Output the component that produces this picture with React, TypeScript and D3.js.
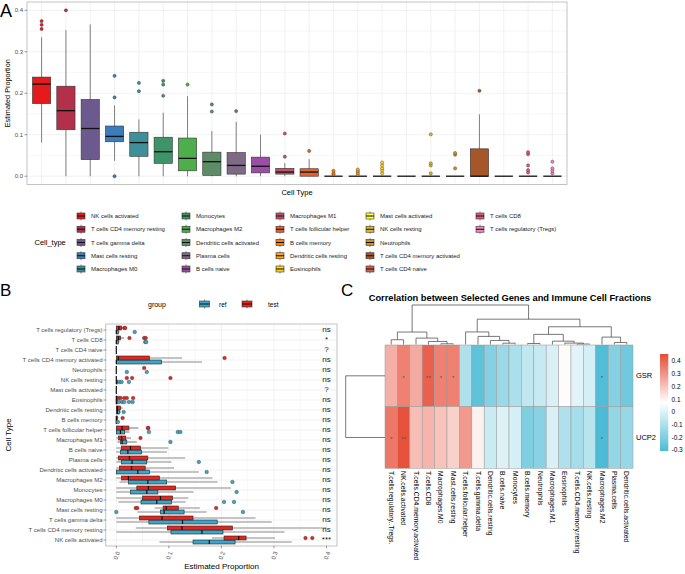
import React from 'react';
import * as d3 from 'd3';

const FONT = '"Liberation Sans", Arial, Helvetica, sans-serif';

// ---- shared categories (panel A order, panel B bottom -> top) ----
const cellTypes = [
  'NK cells activated', 'T cells CD4 memory resting', 'T cells gamma delta', 'Mast cells resting',
  'Macrophages M0', 'Monocytes', 'Macrophages M2', 'Dendritic cells activated', 'Plasma cells',
  'B cells naive', 'Macrophages M1', 'T cells follicular helper', 'B cells memory',
  'Dendritic cells resting', 'Eosinophils', 'Mast cells activated', 'NK cells resting',
  'Neutrophils', 'T cells CD4 memory activated', 'T cells CD4 naive', 'T cells CD8',
  'T cells regulatory (Tregs)',
];
const cellColors = [
  '#E41A1C', '#B3304B', '#6C5A8E', '#3A7DBA', '#3D8F9A', '#3E9468', '#4DAE4B', '#5E8B68',
  '#7E6A85', '#9A4EA6', '#C2506A', '#E3622D', '#FF7F00', '#FFA41A', '#FFD21F', '#FFFF33',
  '#DDBB22', '#C7912B', '#A65628', '#D0604C', '#DD5A80', '#F781BF',
];

// ---- panel A: overall boxplot stats ----
const aLow = [0.081, 0, 0, 0.037, 0, 0, 0, 0, 0, 0, 0, 0, 0, 0, 0, 0, 0, 0, 0, 0, 0, 0];
const aQ1 = [0.175, 0.112, 0.04, 0.083, 0.048, 0.031, 0.013, 0.002, 0.005, 0.008, 0.005, 0, 0, 0, 0, 0, 0, 0, 0, 0, 0, 0];
const aMed = [0.222, 0.158, 0.115, 0.096, 0.081, 0.059, 0.043, 0.035, 0.026, 0.024, 0.01, 0.01, 0, 0, 0, 0, 0, 0, 0, 0, 0, 0];
const aQ3 = [0.239, 0.217, 0.185, 0.121, 0.106, 0.094, 0.092, 0.058, 0.057, 0.046, 0.019, 0.018, 0, 0, 0, 0, 0, 0, 0.066, 0, 0, 0];
const aHigh = [0.335, 0.352, 0.366, 0.171, 0.137, 0.153, 0.193, 0.109, 0.131, 0.1, 0.032, 0.041, 0, 0, 0, 0, 0, 0, 0.149, 0, 0, 0];
const aOut = [
  [0.355, 0.365, 0.374], [0.4], [], [0, 0.19, 0.242], [0.205, 0.225], [0.194, 0.221, 0.23],
  [0.221], [0.156, 0.173], [0.157], [], [0.047, 0.103], [0.061], [0.004, 0.007, 0.013],
  [0.004, 0.008, 0.012, 0.016], [0.007, 0.014, 0.019, 0.026, 0.033], [], [0.007, 0.026, 0.031, 0.101],
  [0.019, 0.052, 0.056], [0.206], [], [0.009, 0.015, 0.026, 0.053, 0.058], [0.007, 0.013, 0.019, 0.035],
];

// ---- panel B: ref vs test ----
const groups = ['ref', 'test'];
const groupColors = ['#3BA6C9', '#E3261F'];
const refLow = [0.082, 0, 0, 0.04, 0.004, 0, 0.006, 0, 0, 0, 0.002, 0, 0, 0, 0, 0, 0, 0, 0, 0, 0, 0];
const refQ1 = [0.146, 0.104, 0.062, 0.084, 0.047, 0.027, 0.023, 0, 0.01, 0.008, 0.008, 0, 0, 0, 0, 0, 0, 0, 0, 0, 0, 0];
const refMed = [0.177, 0.163, 0.126, 0.091, 0.077, 0.058, 0.06, 0.041, 0.03, 0.022, 0.011, 0.008, 0, 0.002, 0, 0, 0, 0, 0, 0, 0, 0];
const refQ3 = [0.226, 0.203, 0.192, 0.129, 0.105, 0.079, 0.096, 0.063, 0.058, 0.048, 0.02, 0.016, 0, 0.006, 0.002, 0, 0.002, 0, 0.086, 0, 0.004, 0.004];
const refHigh = [0.334, 0.32, 0.296, 0.172, 0.132, 0.147, 0.193, 0.157, 0.105, 0.096, 0.039, 0.025, 0, 0.009, 0.003, 0, 0.004, 0, 0.163, 0, 0.006, 0.006];
const refOut = [
  [], [], [], [0, 0.241], [0.205, 0.224], [0.229], [0.221], [0.172], [0.157], [], [0.103],
  [0.062, 0.117, 0.122], [0.003], [0.014], [0.005, 0.011, 0.015, 0.024, 0.031], [], [0.006, 0.01, 0.024],
  [0.02, 0.058], [], [], [0.055, 0.057], [0.035],
];
const testLow = [0.182, 0.037, 0, 0.073, 0, 0, 0, 0, 0, 0, 0, 0, 0, 0, 0, 0, 0, 0, 0, 0, 0, 0];
const testQ1 = [0.205, 0.097, 0.044, 0.089, 0.05, 0.039, 0.01, 0.006, 0.004, 0.01, 0.004, 0, 0, 0, 0, 0, 0, 0, 0, 0, 0, 0];
const testMed = [0.233, 0.125, 0.087, 0.095, 0.084, 0.061, 0.023, 0.029, 0.025, 0.027, 0.01, 0.011, 0, 0.002, 0, 0, 0, 0, 0.004, 0, 0.004, 0.005];
const testQ3 = [0.247, 0.221, 0.146, 0.118, 0.107, 0.113, 0.082, 0.055, 0.06, 0.046, 0.018, 0.024, 0.002, 0.008, 0.002, 0, 0, 0, 0.063, 0, 0.008, 0.01];
const testHigh = [0.302, 0.4, 0.265, 0.159, 0.137, 0.218, 0.183, 0.11, 0.131, 0.099, 0.028, 0.042, 0.004, 0.012, 0.004, 0, 0, 0, 0.125, 0, 0.015, 0.012];
const testOut = [
  [0.36, 0.373], [], [], [0.037, 0.04, 0.19], [], [], [], [], [], [], [0.046], [0.06, 0.061],
  [0.012], [], [0.005, 0.008, 0.015, 0.02, 0.032], [], [0.02, 0.03, 0.103], [0.053], [0.206], [],
  [0.025, 0.053, 0.056], [0.015, 0.017],
];
const sigLabels = [
  '***', 'ns', 'ns', 'ns', 'ns', 'ns', 'ns', 'ns', 'ns', 'ns', 'ns', 'ns', 'ns', 'ns', 'ns', '?',
  'ns', 'ns', 'ns', '?', '*', 'ns',
];
const bTicks = [0, 0.1, 0.2, 0.3, 0.4];

// ---- panel C: heatmap ----
const heatCols = [
  'T.cells.regulatory..Tregs.', 'NK.cells.activated', 'T.cells.CD4.memory.activated', 'T.cells.CD8',
  'Macrophages.M0', 'Mast.cells.resting', 'T.cells.follicular.helper', 'T.cells.gamma.delta',
  'Dendritic.cells.resting', 'B.cells.naive', 'Monocytes', 'B.cells.memory', 'Neutrophils',
  'Macrophages.M1', 'Eosinophils', 'T.cells.CD4.memory.resting', 'NK.cells.resting',
  'Macrophages.M2', 'Plasma.cells', 'Dendritic.cells.activated',
];
const heatRows = ['GSR', 'UCP2'];
const gsrCor = [0.24, 0.34, 0.25, 0.41, 0.34, 0.34, -0.1, -0.27, -0.19, -0.14, -0.11, -0.06, -0.05, -0.01, 0.08, 0.01, -0.02, -0.3, -0.19, -0.23];
const ucp2Cor = [0.36, 0.44, 0.21, 0.23, 0.2, 0.17, 0.29, 0.1, -0.04, 0.0, -0.02, -0.2, -0.18, -0.01, -0.1, -0.12, -0.08, -0.31, -0.16, -0.15];
const gsrStars = ['', '*', '', '**', '*', '*', '', '', '', '', '', '', '', '', '', '', '', '*', '', ''];
const ucp2Stars = ['*', '**', '', '', '', '', '', '', '', '', '', '', '', '', '', '', '', '*', '', ''];
// hclust-style merges: negative = leaf (1-based column), positive = earlier merge step
const colMerge = [
  [-16, -17], [-5, -6], [-12, -13], [-10, -11], [-15, 1], [-19, -20], [-4, 2], [-14, 5], [-9, 4],
  [-1, -2], [-3, 7], [-18, 6], [-8, 9], [3, 8], [10, 11], [-7, 13], [14, 12], [16, 17], [15, 18],
];
const colHeights = [0.5, 0.7, 1.0, 1.3, 1.4, 2.0, 3.0, 3.3, 4.0, 4.7, 6.3, 7.3, 8.0, 10.0, 12.3, 12.4, 17.5, 25.0, 39.0];
const legendTicks = [0.4, 0.3, 0.2, 0.1, 0, -0.1, -0.2, -0.3];

const App = () => {
  // ---------- A ----------
  const ax = d3.scalePoint().domain(cellTypes).range([27, 567]).padding(0.6);
  const ay = d3.scaleLinear().domain([-0.02, 0.42]).range([184.5, 2]);
  const aw = ax.step() * 0.75;
  const aMajor = [0, 0.1, 0.2, 0.3, 0.4];
  const aMinor = [0.05, 0.15, 0.25, 0.35];

  // ---------- B ----------
  const bx = d3.scaleLinear().domain([-0.02, 0.42]).range([105.8, 337]);
  const by = d3.scalePoint().domain(cellTypes).range([546, 324]).padding(0.6);
  const bs = by.step();
  const bMinor = [0.05, 0.15, 0.25, 0.35];
  const bStats = [
    { low: refLow, q1: refQ1, med: refMed, q3: refQ3, high: refHigh, out: refOut, off: bs * 0.2 },
    { low: testLow, q1: testQ1, med: testMed, q3: testQ3, high: testHigh, out: testOut, off: -bs * 0.2 },
  ];

  // ---------- C ----------
  const hx = d3.scaleBand().domain(heatCols).range([385, 633]);
  const hy = d3.scaleBand().domain(heatRows).range([345, 468.3]);
  const heatColor = d3.scaleLinear<string>().domain([-0.31, 0.072, 0.455]).range(['#4DBBD5', '#FFFFFF', '#E64B35']);
  const ly = d3.scaleLinear().domain([-0.31, 0.455]).range([451, 354]);
  const dy = d3.scaleLinear().domain([0, d3.max(colHeights) as number]).range([344.5, 305]);
  const rowDx = d3.scaleLinear().domain([0, 1]).range([385, 345.7]);
  const heatVals = [gsrCor, ucp2Cor];
  const heatStars = [gsrStars, ucp2Stars];

  const nodeX: number[] = [];
  const pos = (i: number) => (i < 0 ? (hx(heatCols[-i - 1]) as number) + hx.bandwidth() / 2 : nodeX[i - 1]);
  const hgt = (i: number) => (i < 0 ? 0 : colHeights[i - 1]);
  const dendroPaths = colMerge.map(([l, r], k) => {
    const xl = pos(l), xr = pos(r);
    nodeX[k] = (xl + xr) / 2;
    const h = dy(colHeights[k]);
    return `M${xl},${dy(hgt(l))}V${h}H${xr}V${dy(hgt(r))}`;
  });
  const rowY = heatRows.map((r) => (hy(r) as number) + hy.bandwidth() / 2);

  const gray = '#4D4D4D';
  const grid = '#EBEBEB';

  const keyGlyph = (cx: number, cy: number, fill: string, w: number) => (
    <g>
      <line x1={cx} x2={cx} y1={cy - 4.5} y2={cy + 4.5} stroke="#333" strokeWidth={0.6} />
      <rect x={cx - w / 2} y={cy - 3} width={w} height={6} fill={fill} stroke="#333" strokeWidth={0.6} />
      <line x1={cx - w / 2} x2={cx + w / 2} y1={cy} y2={cy} stroke="#111" strokeWidth={1} />
    </g>
  );

  const legendColX = [81, 186, 280, 370, 480];

  return (
    <svg width={685} height={574} style={{ position: 'absolute', left: 0, top: 0, background: '#fff' }} fontFamily={FONT}>
      {/* ================= PANEL A ================= */}
      <text x={0} y={17} fontSize={18}>A</text>
      <g>
        {aMinor.map((v) => (
          <line key={'amn' + v} x1={27} x2={567} y1={ay(v)} y2={ay(v)} stroke={grid} strokeWidth={0.4} />
        ))}
        {aMajor.map((v) => (
          <line key={'amj' + v} x1={27} x2={567} y1={ay(v)} y2={ay(v)} stroke={grid} strokeWidth={0.7} />
        ))}
        {cellTypes.map((c) => (
          <line key={'av' + c} x1={ax(c)} x2={ax(c)} y1={2} y2={184.5} stroke={grid} strokeWidth={0.7} />
        ))}
        {cellTypes.map((c, i) => {
          const cx = ax(c) as number;
          return (
            <g key={'abox' + c}>
              <line x1={cx} x2={cx} y1={ay(aLow[i])} y2={ay(aHigh[i])} stroke="#333" strokeWidth={0.6} />
              <rect x={cx - aw / 2} y={ay(aQ3[i])} width={aw} height={Math.max(0, ay(aQ1[i]) - ay(aQ3[i]))}
                fill={cellColors[i]} stroke="#333" strokeWidth={0.6} />
              <line x1={cx - aw / 2} x2={cx + aw / 2} y1={ay(aMed[i])} y2={ay(aMed[i])} stroke="#111" strokeWidth={1.3} />
              {aOut[i].map((o, j) => (
                <circle key={j} cx={cx} cy={ay(o)} r={1.6} fill={cellColors[i]} stroke="#333" strokeWidth={0.4} />
              ))}
            </g>
          );
        })}
        <rect x={27} y={2} width={540} height={182.5} fill="none" stroke="#AAAAAA" strokeWidth={0.7} />
        {aMajor.map((v) => (
          <g key={'aty' + v}>
            <line x1={24.5} x2={27} y1={ay(v)} y2={ay(v)} stroke="#333" strokeWidth={0.5} />
            <text x={23} y={ay(v)} fontSize={6} fill={gray} textAnchor="end" dominantBaseline="central">{v.toFixed(1)}</text>
          </g>
        ))}
        <text transform={`translate(7,${ay(0.2)}) rotate(-90)`} fontSize={7.3} textAnchor="middle" dominantBaseline="central">
          Estimated Proportion
        </text>
        <text x={297} y={195} fontSize={7.5} textAnchor="middle">Cell Type</text>

        {/* legend */}
        <text x={34.5} y={242.5} fontSize={7.5} dominantBaseline="central">Cell_type</text>
        {cellTypes.map((c, i) => {
          const col = Math.floor(i / 5), row = i % 5;
          const cx = legendColX[col], cy = 216 + row * 13.25;
          return (
            <g key={'leg' + c}>
              {keyGlyph(cx, cy, cellColors[i], 8)}
              <text x={cx + 10} y={cy} fontSize={6} fill="#222" dominantBaseline="central">{c}</text>
            </g>
          );
        })}
      </g>

      {/* ================= PANEL B ================= */}
      <text x={0} y={296} fontSize={17}>B</text>
      <g>
        <text x={148} y={304} fontSize={7} dominantBaseline="central">group</text>
        {groups.map((g, i) => {
          const cx = [204.5, 247][i];
          return (
            <g key={'bleg' + g}>
              {keyGlyph(cx, 304, groupColors[i], 10)}
              <text x={cx + (i === 0 ? 14.5 : 21)} y={304} fontSize={6.5} dominantBaseline="central">{g}</text>
            </g>
          );
        })}
        {bMinor.map((v) => (
          <line key={'bmn' + v} x1={bx(v)} x2={bx(v)} y1={324} y2={546} stroke={grid} strokeWidth={0.4} />
        ))}
        {bTicks.map((v) => (
          <line key={'bmj' + v} x1={bx(v)} x2={bx(v)} y1={324} y2={546} stroke={grid} strokeWidth={0.7} />
        ))}
        {cellTypes.map((c) => (
          <line key={'bh' + c} x1={105.8} x2={337} y1={by(c)} y2={by(c)} stroke={grid} strokeWidth={0.7} />
        ))}
        {bStats.map((s, gi) => (
          <g key={'bg' + gi}>
            {cellTypes.map((c, i) => {
              const cy = (by(c) as number) + s.off;
              const h = bs * 0.4;
              return (
                <g key={c}>
                  <line x1={bx(s.low[i])} x2={bx(s.high[i])} y1={cy} y2={cy} stroke="#8A8A8A" strokeWidth={1.2} />
                  <rect x={bx(s.q1[i])} y={cy - h / 2} width={bx(s.q3[i]) - bx(s.q1[i])} height={h}
                    fill={groupColors[gi]} stroke="#222" strokeWidth={0.6} />
                  <line x1={bx(s.med[i])} x2={bx(s.med[i])} y1={cy - h / 2} y2={cy + h / 2} stroke="#111" strokeWidth={1.2} />
                  {s.out[i].map((o, j) => (
                    <circle key={j} cx={bx(o)} cy={cy} r={1.8} fill={groupColors[gi]} stroke="#333" strokeWidth={0.4} />
                  ))}
                </g>
              );
            })}
          </g>
        ))}
        {cellTypes.map((c, i) => (
          <text key={'sig' + c} x={bx(0.4)} y={(by(c) as number) - 1} fontSize={8} fill="#222" textAnchor="middle"
            dominantBaseline="central">{sigLabels[i]}</text>
        ))}
        <rect x={105.8} y={324} width={231.2} height={222} fill="none" stroke="#AAAAAA" strokeWidth={0.7} />
        {cellTypes.map((c) => (
          <g key={'byt' + c}>
            <line x1={103.5} x2={105.8} y1={by(c)} y2={by(c)} stroke="#333" strokeWidth={0.5} />
            <text x={102.5} y={by(c)} fontSize={6} fill={gray} textAnchor="end" dominantBaseline="central">{c}</text>
          </g>
        ))}
        {bTicks.map((v) => (
          <g key={'bxt' + v}>
            <line x1={bx(v)} x2={bx(v)} y1={546} y2={548.3} stroke="#333" strokeWidth={0.5} />
            <text transform={`translate(${bx(v) + 0.5},555.5) rotate(-70)`} fontSize={6} fill={gray}
              textAnchor="middle" dominantBaseline="central">{v.toFixed(1)}</text>
          </g>
        ))}
        <text x={221.5} y={569} fontSize={8} textAnchor="middle">Estimated Proportion</text>
        <text transform="translate(8,435) rotate(-90)" fontSize={8} textAnchor="middle" dominantBaseline="central">
          Cell Type
        </text>
      </g>

      {/* ================= PANEL C ================= */}
      <text x={341} y={296} fontSize={17}>C</text>
      <g>
        <text x={510} y={298} fontSize={9.3} fontWeight="bold" textAnchor="middle" dominantBaseline="central">
          Correlation between Selected Genes and Immune Cell Fractions
        </text>
        {dendroPaths.map((d, i) => (
          <path key={'dp' + i} d={d} fill="none" stroke="#555" strokeWidth={0.8} />
        ))}
        <path d={`M${rowDx(0)},${rowY[0]}H${rowDx(1)}V${rowY[1]}H${rowDx(0)}`} fill="none" stroke="#555" strokeWidth={0.8} />
        {heatRows.map((r, ri) => (
          <g key={'hr' + r}>
            {heatCols.map((c, ci) => (
              <g key={c}>
                <rect x={hx(c)} y={hy(r)} width={hx.bandwidth()} height={hy.bandwidth()}
                  fill={heatColor(heatVals[ri][ci])} stroke="#999999" strokeWidth={0.5} />
                {heatStars[ri][ci] && (
                  <text x={(hx(c) as number) + hx.bandwidth() / 2} y={rowY[ri] + 2} fontSize={6} fill="#555"
                    textAnchor="middle" dominantBaseline="central">{heatStars[ri][ci]}</text>
                )}
              </g>
            ))}
            <text x={636} y={rowY[ri]} fontSize={7.5} dominantBaseline="central">{r}</text>
          </g>
        ))}
        {heatCols.map((c) => (
          <text key={'hc' + c} transform={`translate(${(hx(c) as number) + hx.bandwidth() / 2},471) rotate(90)`}
            fontSize={6.8} dominantBaseline="central">{c}</text>
        ))}
        <defs>
          <linearGradient id="heatGrad" x1="0" x2="0" y1="1" y2="0">
            {d3.range(0, 1.0001, 0.1).map((t) => (
              <stop key={t} offset={t} stopColor={heatColor(-0.31 + t * (0.455 + 0.31))} />
            ))}
          </linearGradient>
        </defs>
        <rect x={660} y={ly(0.455)} width={8.3} height={ly(-0.31) - ly(0.455)} fill="url(#heatGrad)" />
        {legendTicks.map((v) => (
          <text key={'lt' + v} x={671.5} y={ly(v)} fontSize={6.5} dominantBaseline="central">{v}</text>
        ))}
      </g>
    </svg>
  );
};

export default App;
